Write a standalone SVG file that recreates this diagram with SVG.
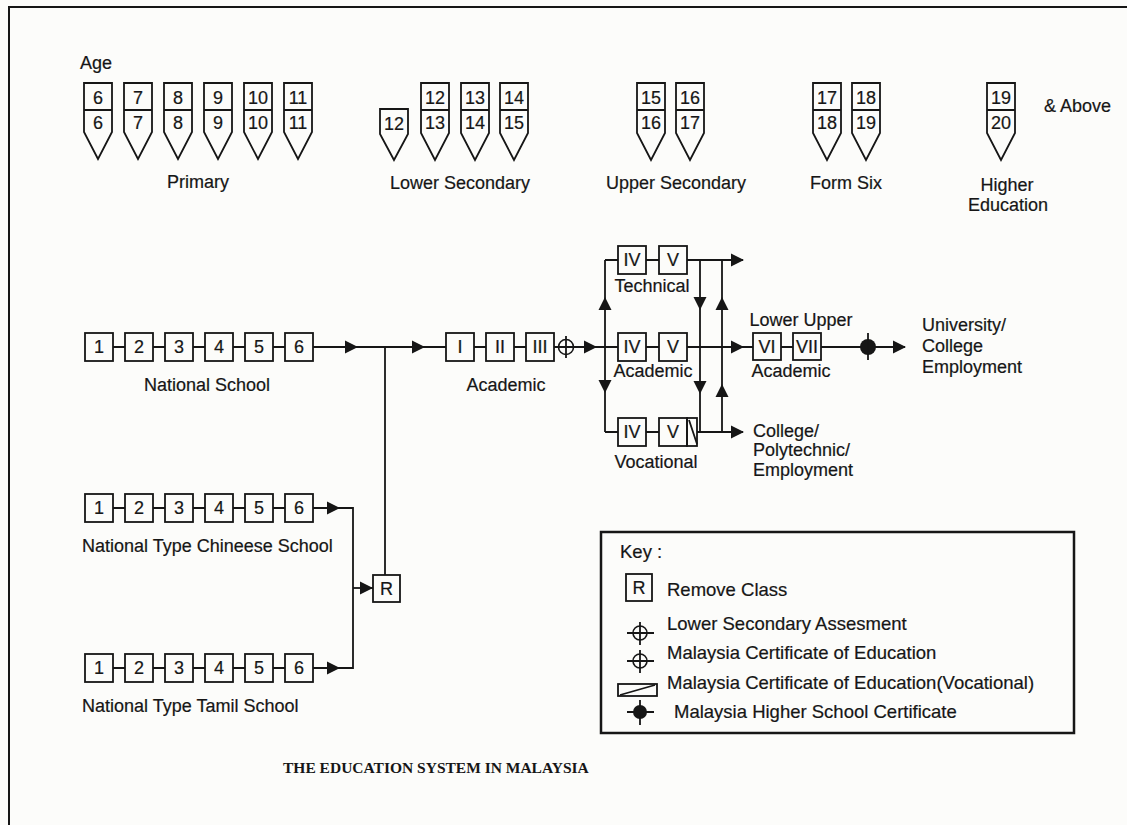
<svg xmlns="http://www.w3.org/2000/svg" width="1127" height="825" viewBox="0 0 1127 825">
<style>
.t{font-family:"Liberation Sans",Arial,sans-serif;font-size:18px;fill:#161616;stroke:#161616;stroke-width:0.2}
.k{font-size:18.5px}
.m{text-anchor:middle}
.ttl{font-family:"Liberation Serif","Times New Roman",serif;font-size:15.5px;font-weight:bold;fill:#161616}
.b{fill:none;stroke:#161616;stroke-width:1.8}
.ln{fill:none;stroke:#161616;stroke-width:1.8}
.ah{fill:#161616;stroke:none}
</style>
<rect x="0" y="0" width="1127" height="825" fill="#fcfcfa"/>
<rect x="9" y="7" width="1140" height="840" fill="none" stroke="#161616" stroke-width="2"/>

<text class="t" x="80" y="69">Age</text>

<g id="ages-primary">
<path class="b" d="M84 83H112V132L98 159L84 132Z M84 110H112"/>
<text class="t m" x="98" y="104">6</text><text class="t m" x="98" y="129">6</text>
<path class="b" d="M124 83H152V132L138 159L124 132Z M124 110H152"/>
<text class="t m" x="138" y="104">7</text><text class="t m" x="138" y="129">7</text>
<path class="b" d="M164 83H192V132L178 159L164 132Z M164 110H192"/>
<text class="t m" x="178" y="104">8</text><text class="t m" x="178" y="129">8</text>
<path class="b" d="M204 83H232V132L218 159L204 132Z M204 110H232"/>
<text class="t m" x="218" y="104">9</text><text class="t m" x="218" y="129">9</text>
<path class="b" d="M244 83H272V132L258 159L244 132Z M244 110H272"/>
<text class="t m" x="258" y="104">10</text><text class="t m" x="258" y="129">10</text>
<path class="b" d="M284 83H312V132L298 159L284 132Z M284 110H312"/>
<text class="t m" x="298" y="104">11</text><text class="t m" x="298" y="129">11</text>
<text class="t m" x="198" y="188">Primary</text>
</g>

<g id="ages-lower">
<path class="b" d="M380 109H408V134L394 160L380 134Z"/>
<text class="t m" x="394" y="130">12</text>
<path class="b" d="M421 83H449V133L435 160L421 133Z M421 110H449"/>
<text class="t m" x="435" y="104">12</text><text class="t m" x="435" y="129">13</text>
<path class="b" d="M461 83H489V133L475 160L461 133Z M461 110H489"/>
<text class="t m" x="475" y="104">13</text><text class="t m" x="475" y="129">14</text>
<path class="b" d="M500 83H528V133L514 160L500 133Z M500 110H528"/>
<text class="t m" x="514" y="104">14</text><text class="t m" x="514" y="129">15</text>
<text class="t m" x="460" y="189">Lower Secondary</text>
</g>

<g id="ages-upper">
<path class="b" d="M637 83H665V133L651 160L637 133Z M637 110H665"/>
<text class="t m" x="651" y="104">15</text><text class="t m" x="651" y="129">16</text>
<path class="b" d="M676 83H704V133L690 160L676 133Z M676 110H704"/>
<text class="t m" x="690" y="104">16</text><text class="t m" x="690" y="129">17</text>
<text class="t m" x="676" y="189">Upper Secondary</text>
</g>

<g id="ages-form6">
<path class="b" d="M813 83H841V133L827 160L813 133Z M813 110H841"/>
<text class="t m" x="827" y="104">17</text><text class="t m" x="827" y="129">18</text>
<path class="b" d="M852 83H880V133L866 160L852 133Z M852 110H880"/>
<text class="t m" x="866" y="104">18</text><text class="t m" x="866" y="129">19</text>
<text class="t m" x="846" y="189">Form Six</text>
</g>

<g id="ages-higher">
<path class="b" d="M987 83H1015V133L1001 160L987 133Z M987 110H1015"/>
<text class="t m" x="1001" y="104">19</text><text class="t m" x="1001" y="129">20</text>
<text class="t" x="1044" y="112">&amp; Above</text>
<text class="t m" x="1007" y="191">Higher</text>
<text class="t m" x="1008" y="211">Education</text>
</g>

<g id="connectors">
<path class="ln" d="M113 347H125M153 347H165M193 347H205M233 347H245M273 347H285M313 347H446"/>
<path class="ln" d="M385 347V575"/>
<path class="ln" d="M113 508H125M153 508H165M193 508H205M233 508H245M273 508H285M313 508H353V668H313"/>
<path class="ln" d="M273 668H285M233 668H245M193 668H205M153 668H165M113 668H125"/>
<path class="ln" d="M353 588H373"/>
<path class="ln" d="M474 347H486M514 347H526M554 347H618"/>
<path class="ln" d="M605 260V432M605 260H618M605 432H618"/>
<path class="ln" d="M646 260H659M646 347H659M646 432H659"/>
<path class="ln" d="M687 260H743M687 347H753M697 432H743"/>
<path class="ln" d="M700 260V432M722 260V432"/>
<path class="ln" d="M781 347H793M821 347H905"/>
<polygon class="ah" points="358,347 345,340.5 345,353.5"/>
<polygon class="ah" points="425,347 412,340.5 412,353.5"/>
<polygon class="ah" points="340,508 327,501.5 327,514.5"/>
<polygon class="ah" points="340,668 327,661.5 327,674.5"/>
<polygon class="ah" points="373,588 360,581.5 360,594.5"/>
<polygon class="ah" points="597,347 584,340.5 584,353.5"/>
<polygon class="ah" points="605,297 598.5,310 611.5,310"/>
<polygon class="ah" points="605,393 598.5,380 611.5,380"/>
<polygon class="ah" points="700,310 693.5,297 706.5,297"/>
<polygon class="ah" points="700,394 693.5,381 706.5,381"/>
<polygon class="ah" points="722,297 715.5,310 728.5,310"/>
<polygon class="ah" points="722,384 715.5,397 728.5,397"/>
<polygon class="ah" points="744,260 731,253.5 731,266.5"/>
<polygon class="ah" points="744,347 731,340.5 731,353.5"/>
<polygon class="ah" points="744,432 731,425.5 731,438.5"/>
<polygon class="ah" points="906,347 893,340.5 893,353.5"/>
<circle cx="566" cy="347" r="7.5" fill="none" stroke="#161616" stroke-width="1.6"/>
<path class="ln" d="M566 336V358"/>
<circle cx="868" cy="347" r="8" fill="#161616"/>
<path class="ln" d="M868 333V360"/>
</g>

<g id="national-school">
<rect class="b" x="85" y="333" width="28" height="28"/><text class="t m" x="99" y="353">1</text>
<rect class="b" x="125" y="333" width="28" height="28"/><text class="t m" x="139" y="353">2</text>
<rect class="b" x="165" y="333" width="28" height="28"/><text class="t m" x="179" y="353">3</text>
<rect class="b" x="205" y="333" width="28" height="28"/><text class="t m" x="219" y="353">4</text>
<rect class="b" x="245" y="333" width="28" height="28"/><text class="t m" x="259" y="353">5</text>
<rect class="b" x="285" y="333" width="28" height="28"/><text class="t m" x="299" y="353">6</text>
<text class="t m" x="207" y="391">National School</text>
</g>

<g id="chinese-school">
<rect class="b" x="85" y="494" width="28" height="28"/><text class="t m" x="99" y="514">1</text>
<rect class="b" x="125" y="494" width="28" height="28"/><text class="t m" x="139" y="514">2</text>
<rect class="b" x="165" y="494" width="28" height="28"/><text class="t m" x="179" y="514">3</text>
<rect class="b" x="205" y="494" width="28" height="28"/><text class="t m" x="219" y="514">4</text>
<rect class="b" x="245" y="494" width="28" height="28"/><text class="t m" x="259" y="514">5</text>
<rect class="b" x="285" y="494" width="28" height="28"/><text class="t m" x="299" y="514">6</text>
<text class="t" x="82" y="552">National Type Chineese School</text>
</g>

<g id="tamil-school">
<rect class="b" x="85" y="654" width="28" height="28"/><text class="t m" x="99" y="674">1</text>
<rect class="b" x="125" y="654" width="28" height="28"/><text class="t m" x="139" y="674">2</text>
<rect class="b" x="165" y="654" width="28" height="28"/><text class="t m" x="179" y="674">3</text>
<rect class="b" x="205" y="654" width="28" height="28"/><text class="t m" x="219" y="674">4</text>
<rect class="b" x="245" y="654" width="28" height="28"/><text class="t m" x="259" y="674">5</text>
<rect class="b" x="285" y="654" width="28" height="28"/><text class="t m" x="299" y="674">6</text>
<text class="t" x="82" y="712">National Type Tamil School</text>
</g>

<g id="remove-class">
<rect class="b" x="373" y="575" width="27" height="27"/><text class="t m" x="386.5" y="595">R</text>
</g>

<g id="lower-academic">
<rect class="b" x="446" y="333" width="28" height="28"/><text class="t m" x="460" y="353">I</text>
<rect class="b" x="486" y="333" width="28" height="28"/><text class="t m" x="500" y="353">II</text>
<rect class="b" x="526" y="333" width="28" height="28"/><text class="t m" x="540" y="353">III</text>
<text class="t m" x="506" y="391">Academic</text>
</g>

<g id="technical">
<rect class="b" x="618" y="246" width="28" height="28"/><text class="t m" x="632" y="266">IV</text>
<rect class="b" x="659" y="246" width="28" height="28"/><text class="t m" x="673" y="266">V</text>
<text class="t m" x="652" y="292">Technical</text>
</g>

<g id="upper-academic">
<rect class="b" x="618" y="333" width="28" height="28"/><text class="t m" x="632" y="353">IV</text>
<rect class="b" x="659" y="333" width="28" height="28"/><text class="t m" x="673" y="353">V</text>
<text class="t m" x="653" y="377">Academic</text>
</g>

<g id="vocational">
<rect class="b" x="618" y="418" width="28" height="28"/><text class="t m" x="632" y="438">IV</text>
<rect class="b" x="659" y="418" width="28" height="28"/><text class="t m" x="673" y="438">V</text>
<rect class="b" x="687" y="418" width="10" height="28"/>
<path class="ln" d="M689 420L697 444"/>
<text class="t m" x="656" y="468">Vocational</text>
</g>

<g id="form-six">
<text class="t m" x="801" y="326">Lower Upper</text>
<rect class="b" x="753" y="333" width="28" height="27"/><text class="t m" x="767" y="353">VI</text>
<rect class="b" x="793" y="333" width="28" height="27"/><text class="t m" x="807" y="353">VII</text>
<text class="t m" x="791" y="377">Academic</text>
</g>

<g id="university">
<text class="t" x="922" y="331">University/</text>
<text class="t" x="922" y="352">College</text>
<text class="t" x="922" y="373">Employment</text>
</g>

<g id="college">
<text class="t" x="753" y="437">College/</text>
<text class="t" x="753" y="456">Polytechnic/</text>
<text class="t" x="753" y="476">Employment</text>
</g>

<g id="key">
<rect x="601" y="532" width="473" height="201" fill="none" stroke="#161616" stroke-width="2.5"/>
<text class="t k" x="620" y="558">Key :</text>
<rect class="b" x="626" y="574" width="26" height="27"/><text class="t m" x="639" y="594">R</text>
<text class="t k" x="667" y="596">Remove Class</text>
<circle cx="640" cy="633" r="7" fill="none" stroke="#161616" stroke-width="1.6"/>
<path class="ln" d="M627 633H654M640 622V645"/>
<text class="t k" x="667" y="630">Lower Secondary Assesment</text>
<circle cx="640" cy="661" r="7" fill="none" stroke="#161616" stroke-width="1.6"/>
<path class="ln" d="M627 661H654M640 650V673"/>
<text class="t k" x="667" y="659">Malaysia Certificate of Education</text>
<rect class="b" x="618" y="684" width="39" height="12"/>
<path class="ln" d="M620 695L655 685"/>
<text class="t k" x="667" y="689">Malaysia Certificate of Education(Vocational)</text>
<circle cx="640" cy="712" r="7" fill="#161616"/>
<path class="ln" d="M627 712H654M640 700V725"/>
<text class="t k" x="674" y="718">Malaysia Higher School Certificate</text>
</g>

<text class="ttl" x="283" y="773">THE EDUCATION SYSTEM IN MALAYSIA</text>
</svg>
